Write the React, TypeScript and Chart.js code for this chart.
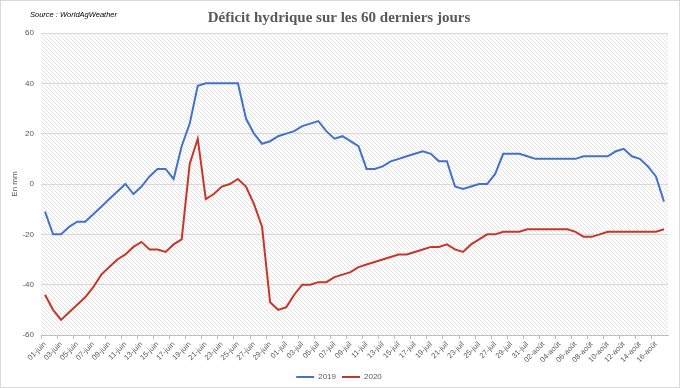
import React, { useEffect, useRef } from "react";
import { Chart, registerables } from "chart.js";

Chart.register(...registerables);

const juinDays = ["01-juin","02-juin","03-juin","04-juin","05-juin","06-juin","07-juin","08-juin","09-juin","10-juin","11-juin","12-juin","13-juin","14-juin","15-juin","16-juin","17-juin","18-juin","19-juin","20-juin","21-juin","22-juin","23-juin","24-juin","25-juin","26-juin","27-juin","28-juin","29-juin","30-juin"];
const juilDays = ["01-juil","02-juil","03-juil","04-juil","05-juil","06-juil","07-juil","08-juil","09-juil","10-juil","11-juil","12-juil","13-juil","14-juil","15-juil","16-juil","17-juil","18-juil","19-juil","20-juil","21-juil","22-juil","23-juil","24-juil","25-juil","26-juil","27-juil","28-juil","29-juil","30-juil","31-juil"];
const aoutDays = ["01-août","02-août","03-août","04-août","05-août","06-août","07-août","08-août","09-août","10-août","11-août","12-août","13-août","14-août","15-août","16-août","17-août"];
const categories = [...juinDays, ...juilDays, ...aoutDays];

const values2019 = [
  -11, -20, -20, -17, -15, -15, -12, -9, -6, -3,
  0, -4, -1, 3, 6, 6, 2, 15, 24, 39,
  40, 40, 40, 40, 40, 26, 20, 16, 17, 19,
  20, 21, 23, 24, 25, 21, 18, 19, 17, 15,
  6, 6, 7, 9, 10, 11, 12, 13, 12, 9,
  9, -1, -2, -1, 0, 0, 4, 12, 12, 12,
  11, 10, 10, 10, 10, 10, 10, 11, 11, 11,
  11, 13, 14, 11, 10, 7, 3, -7,
];

const values2020 = [
  -44, -50, -54, -51, -48, -45, -41, -36, -33, -30,
  -28, -25, -23, -26, -26, -27, -24, -22, 8, 18,
  -6, -4, -1, 0, 2, -1, -8, -17, -47, -50,
  -49, -44, -40, -40, -39, -39, -37, -36, -35, -33,
  -32, -31, -30, -29, -28, -28, -27, -26, -25, -25,
  -24, -26, -27, -24, -22, -20, -20, -19, -19, -19,
  -18, -18, -18, -18, -18, -18, -19, -21, -21, -20,
  -19, -19, -19, -19, -19, -19, -19, -18,
];

const yTicks = [-60, -40, -20, 0, 20, 40, 60];
const seriesNames = ["2019", "2020"];
const titleText = "Déficit hydrique sur les 60 derniers jours";
const sourceText = "Source : WorldAgWeather";
const yAxisTitle = "En mm";

function makePattern(ctx: CanvasRenderingContext2D) {
  const c = document.createElement("canvas");
  c.width = 4;
  c.height = 4;
  const p = c.getContext("2d")!;
  p.fillStyle = "#ffffff";
  p.fillRect(0, 0, 4, 4);
  p.strokeStyle = "#e2e2e2";
  p.lineWidth = 1;
  p.beginPath();
  p.moveTo(-1, -1);
  p.lineTo(5, 5);
  p.stroke();
  return ctx.createPattern(c, "repeat");
}

const bgPlugin = {
  id: "hatchBg",
  beforeDraw(chart: any) {
    const { ctx, chartArea } = chart;
    ctx.save();
    ctx.fillStyle = "#ffffff";
    ctx.fillRect(0, 0, chart.width, chart.height);
    const pat = makePattern(ctx);
    if (pat) {
      ctx.fillStyle = pat;
      ctx.fillRect(chartArea.left, chartArea.top, chartArea.right - chartArea.left, chartArea.bottom - chartArea.top);
    }
    ctx.restore();
  },
  afterDraw(chart: any) {
    const { ctx } = chart;
    ctx.save();
    ctx.strokeStyle = "#d9d9d9";
    ctx.lineWidth = 1;
    ctx.strokeRect(0.5, 0.5, chart.width - 1, chart.height - 1);
    ctx.restore();
  },
};

export default function App() {
  const ref = useRef<HTMLCanvasElement | null>(null);

  useEffect(() => {
    document.body.style.margin = "0";
    if (!ref.current) return;
    Chart.defaults.font.family = "'Liberation Sans', Arial, sans-serif";
    const chart = new Chart(ref.current, {
      type: "line",
      data: {
        labels: categories,
        datasets: [
          {
            label: seriesNames[0],
            data: values2019,
            borderColor: "#4472C4",
            backgroundColor: "#4472C4",
            borderWidth: 2,
            pointRadius: 0,
            pointStyle: "line",
            tension: 0,
          },
          {
            label: seriesNames[1],
            data: values2020,
            borderColor: "#C0392B",
            backgroundColor: "#C0392B",
            borderWidth: 2,
            pointRadius: 0,
            pointStyle: "line",
            tension: 0,
          },
        ],
      },
      options: {
        responsive: false,
        animation: false,
        layout: { padding: { left: 10, right: 12, top: 0, bottom: -3 } },
        plugins: {
          title: {
            display: true,
            text: titleText,
            color: "#595959",
            font: { family: "'Liberation Serif', serif", size: 15, weight: "bold" },
            padding: { top: 9, bottom: 6 },
          },
          legend: {
            position: "bottom",
            labels: {
              usePointStyle: true,
              pointStyleWidth: 18,
              boxHeight: 8,
              color: "#595959",
              font: { size: 8 },
              padding: 6,
            },
          },
          tooltip: { enabled: false },
        },
        scales: {
          x: {
            type: "category",
            offset: true,
            grid: {
              offset: true,
              drawOnChartArea: false,
              drawTicks: true,
              tickLength: 4,
              color: (c: any) => (c.index % 2 === 0 ? "#bfbfbf" : "rgba(0,0,0,0)"),
            },
            border: { display: true, color: "#bfbfbf" },
            ticks: {
              autoSkip: false,
              minRotation: 45,
              maxRotation: 45,
              color: "#595959",
              font: { size: 7.5 },
              padding: 1,
              callback: (_v: any, i: number) => (i % 2 === 0 ? categories[i] : ""),
            },
            afterFit: (s: any) => {
              s.height = 32;
            },
          },
          y: {
            min: yTicks[0],
            max: yTicks[yTicks.length - 1],
            afterBuildTicks: (s: any) => {
              s.ticks = yTicks.map((v) => ({ value: v }));
            },
            grid: { color: "#d9d9d9", drawTicks: false },
            border: { display: false },
            ticks: { color: "#595959", font: { size: 8 }, padding: 7 },
            title: { display: true, text: yAxisTitle, color: "#595959", font: { size: 8 }, padding: 0 },
            afterFit: (s: any) => {
              s.width = 31;
            },
          },
        },
      },
      plugins: [bgPlugin],
    });
    return () => chart.destroy();
  }, []);

  return (
    <div style={{ position: "relative", width: 680, height: 388 }}>
      <canvas ref={ref} width={680} height={388} style={{ display: "block" }} />
      <div
        style={{
          position: "absolute",
          left: 30,
          top: 10,
          fontFamily: "'Liberation Sans', Arial, sans-serif",
          fontStyle: "italic",
          fontSize: 7.5,
          color: "#000000",
          whiteSpace: "nowrap",
        }}
      >
        {sourceText}
      </div>
    </div>
  );
}
